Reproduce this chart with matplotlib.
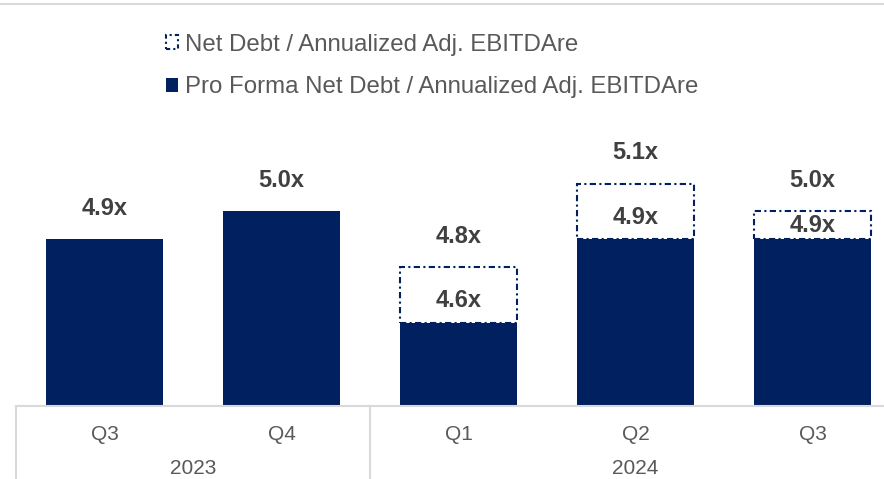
#!/usr/bin/env python3
"""Net debt / annualized adjusted EBITDAre by quarter, with pro forma bars."""

import matplotlib
matplotlib.use("Agg")
import matplotlib.pyplot as plt
from matplotlib.lines import Line2D
from matplotlib.patches import Rectangle
from matplotlib.transforms import blended_transform_factory

quarters = ["Q3", "Q4", "Q1", "Q2", "Q3"]
years = ["2023", "2024"]
year_sizes = [2, 3]
pro_forma = [4.9, 5.0, 4.6, 4.9, 4.9]
net_debt = [None, None, 4.8, 5.1, 5.0]

NAVY = "#002060"
LABEL = "#404040"
TEXT = "#595959"
GRID = "#d9d9d9"

plt.rcParams["font.family"] = ["Liberation Sans", "DejaVu Sans"]

W, H = 884, 479
fig = plt.figure(figsize=(W / 100, H / 100), dpi=100)

# axes run past the right edge, like the slide crop
ymin, ymax = 4.3, 5.7
px_per_unit = 278.0
base_px = 406
ax_h = (ymax - ymin) * px_per_unit
ax = fig.add_axes([16 / W, 1 - base_px / H, 885 / W, ax_h / H])
ax.set_xlim(-0.5, len(quarters) - 0.5)
ax.set_ylim(ymin, ymax)

x = list(range(len(quarters)))
ax.bar(x, [v - ymin for v in pro_forma], bottom=ymin, width=0.66,
       color=NAVY, zorder=2)

dash = (0, (3, 1.6, 1, 1.6))
for i, (pf, nd) in enumerate(zip(pro_forma, net_debt)):
    top = pf
    if nd is not None:
        ax.bar(i, nd - pf, bottom=pf, width=0.66, fill=False,
               edgecolor=NAVY, linewidth=1.5, linestyle=dash, zorder=3)
        top = nd
        inner = pf + min(0.078, (nd - pf) / 2)
        ax.text(i, inner, f"{pf:.1f}x", ha="center", va="center",
                fontsize=17, fontweight="bold", color=LABEL, zorder=4)
    ax.annotate(f"{top:.1f}x", (i, top), xytext=(0, 22.3),
                textcoords="offset points", ha="center", va="center",
                fontsize=17, fontweight="bold", color=LABEL)

for side in ["top", "right", "left"]:
    ax.spines[side].set_visible(False)
ax.spines["bottom"].set_color(GRID)
ax.spines["bottom"].set_linewidth(1.5)
ax.set_yticks([])
ax.set_xticks(x)
ax.set_xticklabels(quarters, fontsize=15, color=TEXT)
ax.tick_params(axis="x", length=0, pad=14)

# year row and group separators below the axis
trans = blended_transform_factory(ax.transData, ax.transAxes)
below = -(H - base_px) / ax_h
start = -0.5
for year, n in zip(years, year_sizes):
    ax.text(start + n / 2, -62 / ax_h, year, transform=trans,
            ha="center", va="center", fontsize=15, color=TEXT)
    ax.plot([start, start], [0, below], transform=trans, color=GRID,
            linewidth=1.5, clip_on=False)
    start += n
ax.plot([start, start], [0, below], transform=trans, color=GRID,
        linewidth=1.5, clip_on=False)

# thin rule across the top
fig.add_artist(Line2D([0, 1], [1 - 3.5 / H, 1 - 3.5 / H],
                      transform=fig.transFigure, color=GRID, linewidth=1.5))

handles = [
    Rectangle((0, 0), 1, 1, fill=False, edgecolor=NAVY, linewidth=1.5,
              linestyle=(0, (2, 1.5, 1, 1.5))),
    Rectangle((0, 0), 1, 1, facecolor=NAVY, edgecolor="none"),
]
labels = ["Net Debt / Annualized Adj. EBITDAre",
          "Pro Forma Net Debt / Annualized Adj. EBITDAre"]
fig.legend(handles, labels, loc="upper left",
           bbox_to_anchor=(166 / W, 1 - 33.5 / H), frameon=False,
           fontsize=17.25, labelcolor=TEXT, handlelength=0.5,
           handleheight=0.5, handletextpad=0.3, labelspacing=0.875,
           borderpad=0, borderaxespad=0)

fig.savefig("out.png", dpi=100)
